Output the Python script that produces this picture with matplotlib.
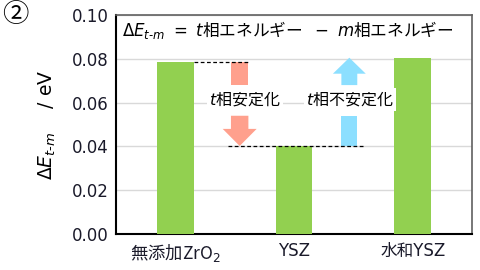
import matplotlib.pyplot as plt
from matplotlib.patches import FancyArrow, Rectangle

plt.rcParams['font.family'] = ['DejaVu Sans', 'Noto Sans CJK JP']
plt.rcParams['mathtext.fontset'] = 'dejavusans'
cjk = ['Noto Sans CJK JP', 'DejaVu Sans']

# data
categories = ['無添加ZrO$_2$', 'YSZ', '水和YSZ']
delta_e = [0.0786, 0.0402, 0.0805]
yticks = [0.00, 0.02, 0.04, 0.06, 0.08, 0.10]

green = '#92D050'
red = '#FFA08D'
blue = '#8CDFFF'

fig = plt.figure(figsize=(4.8, 2.7), dpi=100)
ax = fig.add_axes([0.2417, 0.1333, 0.7417, 0.8111])

x = range(len(categories))
ax.bar(x, delta_e, width=0.31, color=green, zorder=3)

ax.set_xlim(-0.5, 2.5)
ax.set_ylim(0, 0.10)
ax.set_yticks(yticks)
ax.set_yticklabels([f'{v:.2f}' for v in yticks])
ax.set_xticks(list(x))
ax.set_xticklabels(categories)
ax.tick_params(length=0, labelsize=12, pad=5, labelcolor='#1a1a2a')
ax.tick_params(axis='x', pad=6)
ax.get_xticklabels()[0].set_family(cjk)
ax.get_xticklabels()[0].set_fontsize(12.5)
ax.grid(axis='y', color='#d9d9d9', lw=1, zorder=0)

for side in ['top', 'right']:
    ax.spines[side].set_color('#606060')
    ax.spines[side].set_linewidth(1.2)
for side in ['left', 'bottom']:
    ax.spines[side].set_color('black')
    ax.spines[side].set_linewidth(1.5)

# dashed guide lines
ax.plot([0.155, 0.617], [delta_e[0]] * 2, 'k--', lw=0.9, dashes=(3, 2), zorder=4)
ax.plot([0.44, 1.60], [delta_e[1]] * 2, 'k--', lw=0.9, dashes=(3, 2), zorder=4)

gap_lo, gap_hi = 0.054, 0.068

# red arrow (t phase stabilised)
rx, rw, rhw, rhl = 0.542, 0.147, 0.286, 0.0078
ax.add_patch(Rectangle((rx - rw / 2, gap_hi), rw, delta_e[0] - gap_hi, color=red, lw=0, zorder=3))
ax.add_patch(FancyArrow(rx, gap_lo, 0, delta_e[1] - gap_lo, width=rw, head_width=rhw,
                        head_length=rhl, length_includes_head=True, color=red, lw=0, zorder=3))

# blue arrow (t phase destabilised)
bx, bw, bhw, bhl = 1.466, 0.134, 0.277, 0.0073
ax.add_patch(Rectangle((bx - bw / 2, delta_e[1]), bw, gap_lo - delta_e[1], color=blue, lw=0, zorder=3))
ax.add_patch(FancyArrow(bx, gap_hi, 0, delta_e[2] - gap_hi, width=bw, head_width=bhw,
                        head_length=bhl, length_includes_head=True, color=blue, lw=0, zorder=3))

ax.text(0.584, 0.0615, '$t$相安定化', ha='center', va='center', fontsize=11.5, family=cjk,
        bbox=dict(fc='white', ec='none', pad=1.5), zorder=5)
ax.text(1.47, 0.0615, '$t$相不安定化', ha='center', va='center', fontsize=11.5, family=cjk,
        bbox=dict(fc='white', ec='none', pad=1.5), zorder=5)

ax.text(0.017, 0.93, r'$\Delta E_{t\text{-}m}\ =\ t$相エネルギー $\ -\ m$相エネルギー',
        transform=ax.transAxes, ha='left', va='center', fontsize=12, family=cjk, zorder=5)

ax.set_ylabel(r'$\Delta E_{t\text{-}m}$    / eV', fontsize=13.5, labelpad=10)

fig.text(0.031, 0.945, '②', fontsize=19, ha='center', va='center', family=cjk)

fig.savefig('out.png', dpi=100)
